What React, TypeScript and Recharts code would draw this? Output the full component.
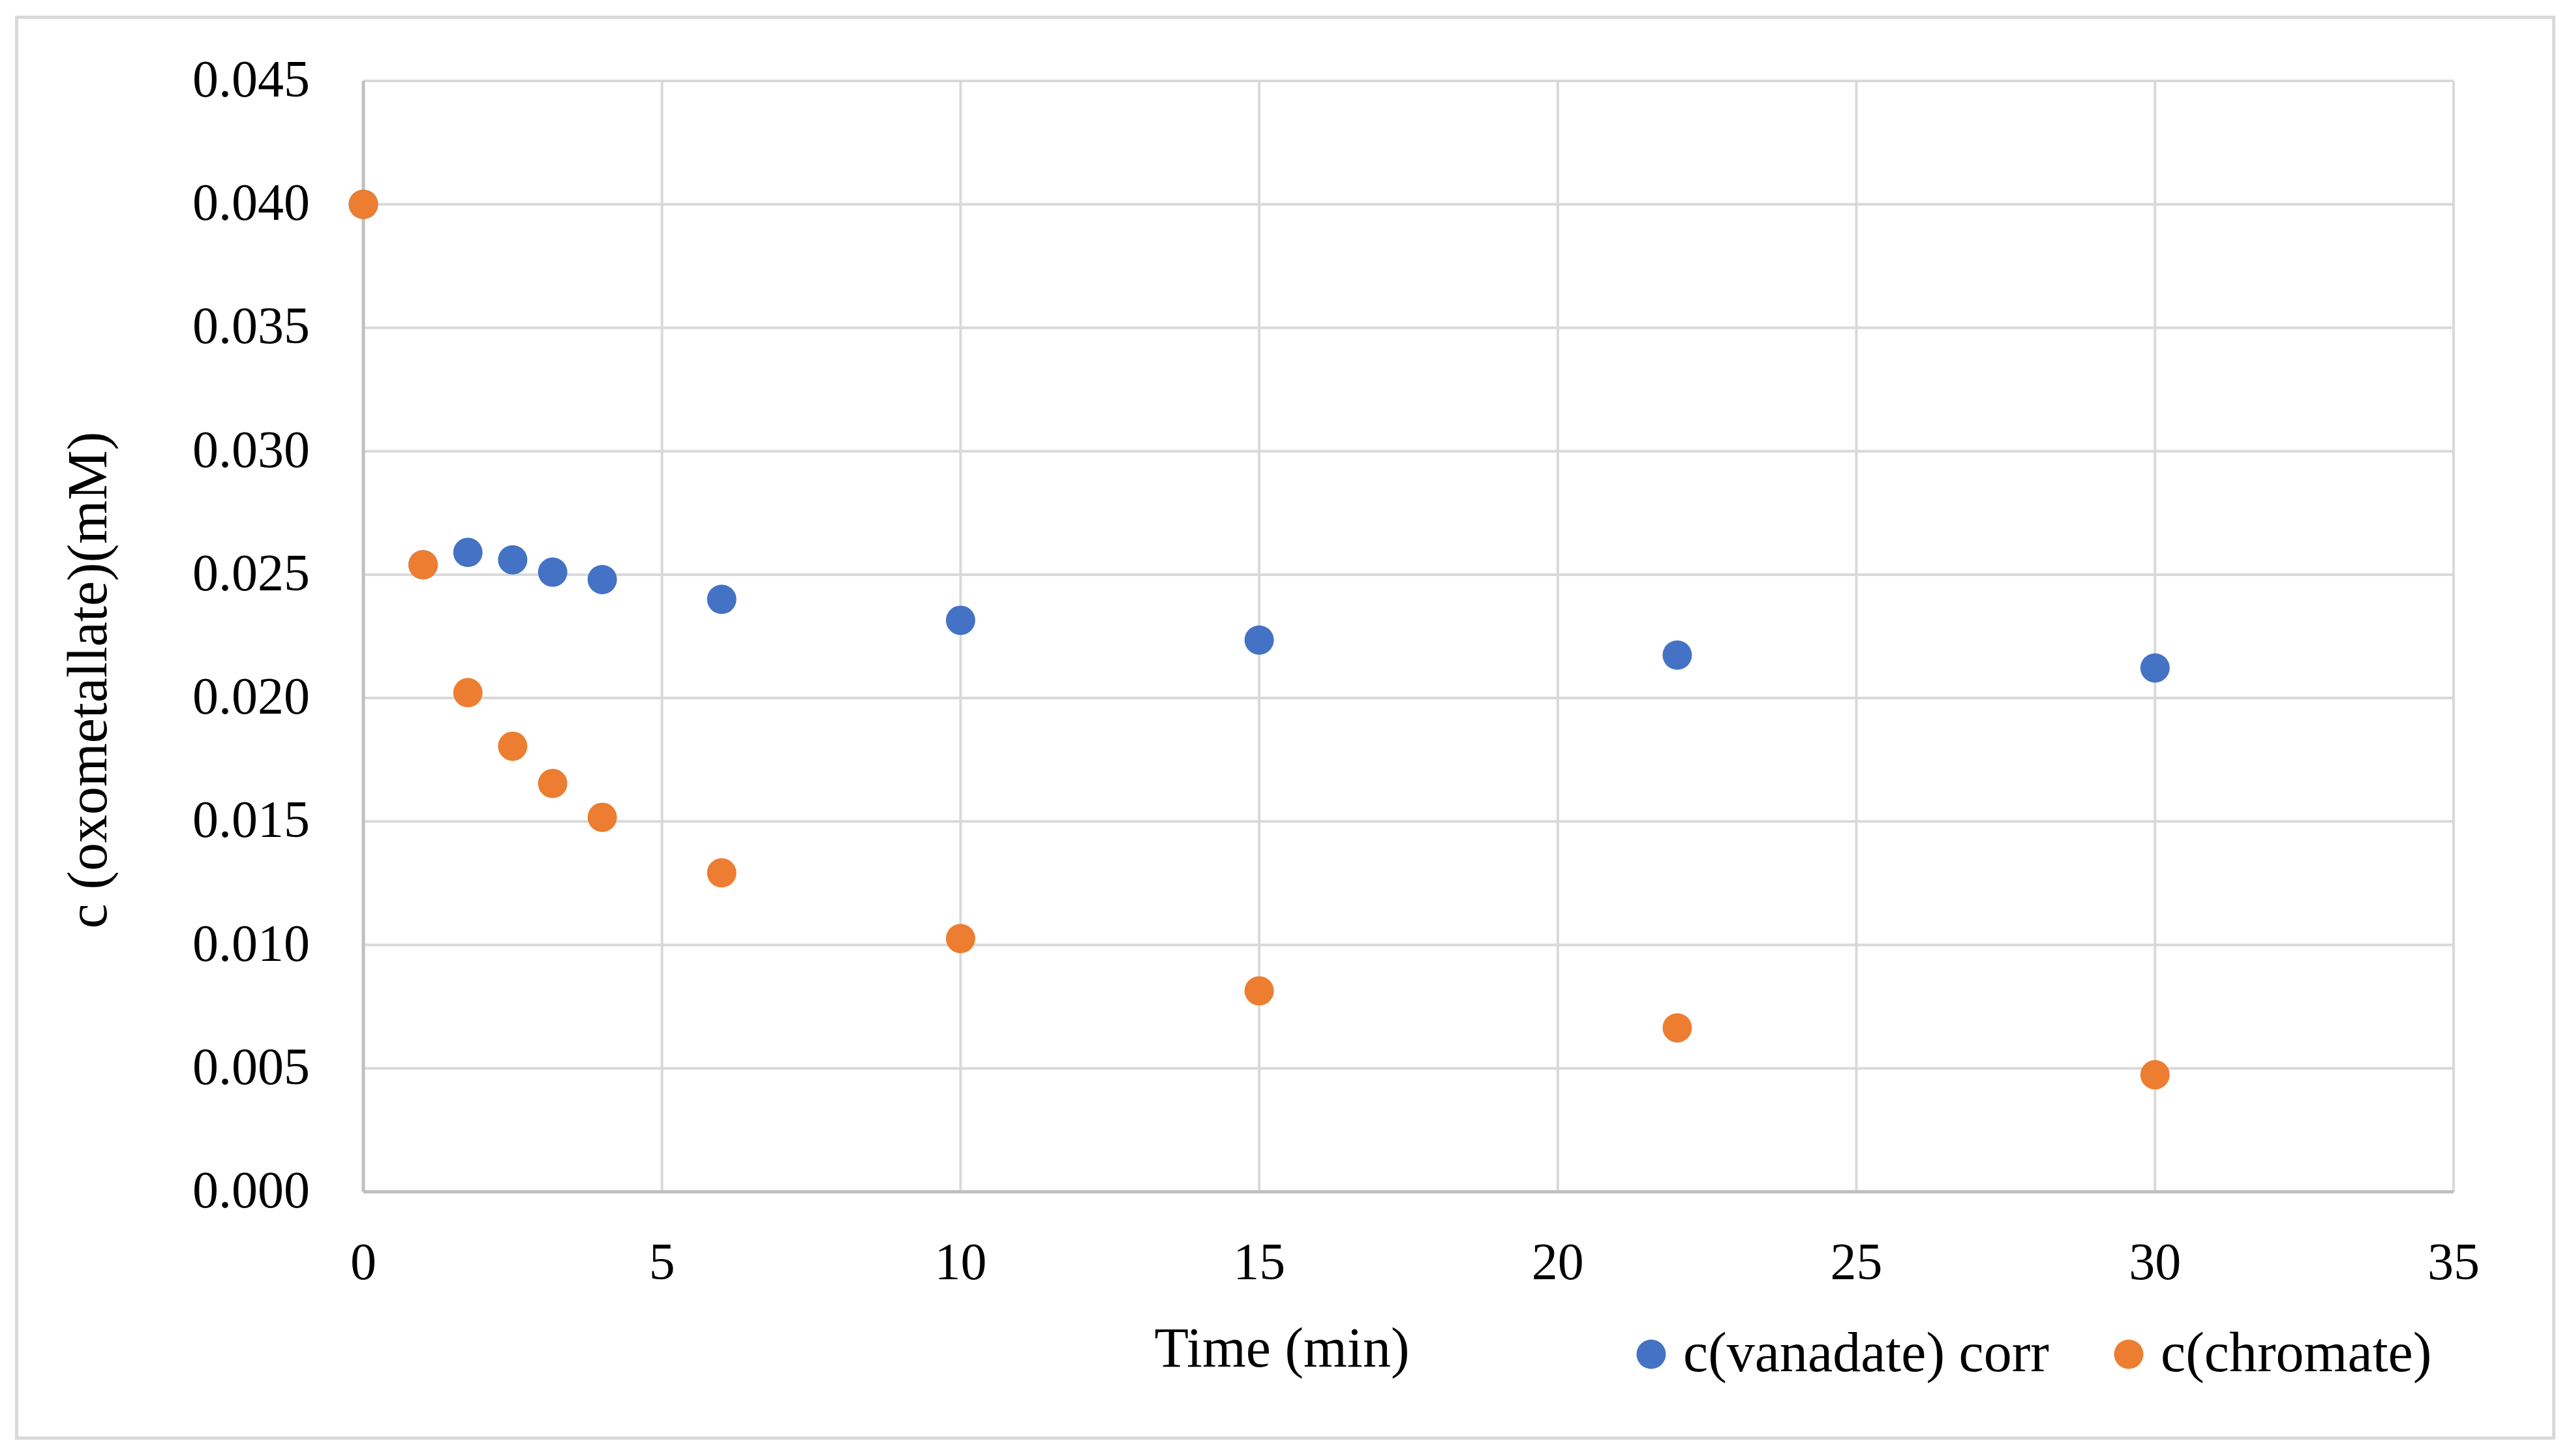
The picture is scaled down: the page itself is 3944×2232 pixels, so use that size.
import React from 'react';
import { ScatterChart, Scatter, XAxis, YAxis, CartesianGrid, Legend } from 'recharts';

const timeMin = [0, 1, 1.75, 2.5, 3.17, 4, 6, 10, 15, 22, 30];
const vanadateCorr = [0.04, 0.0254, 0.0259, 0.0256, 0.0251, 0.0248, 0.024, 0.02315, 0.02235, 0.02174, 0.02122];
const chromate = [0.04, 0.0254, 0.02022, 0.01805, 0.01654, 0.01517, 0.01292, 0.01026, 0.00814, 0.00664, 0.00474];
const xTicks = [0, 5, 10, 15, 20, 25, 30, 35];
const yTicks = [0, 0.005, 0.01, 0.015, 0.02, 0.025, 0.03, 0.035, 0.04, 0.045];

const seriesNames = ['c(vanadate) corr', 'c(chromate)'];
const seriesColors = ['#4472C4', '#ED7D31'];

const vanadateData = timeMin.map((t, i) => ({ t, c: vanadateCorr[i] }));
const chromateData = timeMin.map((t, i) => ({ t, c: chromate[i] }));

const FONT = "'Liberation Serif', 'Times New Roman', serif";
const W = 3928;
const H = 2216;

const XTick = (props: any) => (
  <text x={props.x} y={props.y} dy={134} textAnchor="middle" fontFamily={FONT} fontSize={80} fill="#000">
    {props.payload.value}
  </text>
);

const YTick = (props: any) => (
  <text x={props.x} y={props.y} dy={24} textAnchor="end" fontFamily={FONT} fontSize={80} fill="#000">
    {Number(props.payload.value).toFixed(3)}
  </text>
);

const XLabel = (props: any) => {
  const vb = props.viewBox || {};
  return (
    <text x={vb.x + vb.width / 2 - 194} y={vb.y + 268} textAnchor="middle" fontFamily={FONT} fontSize={86} fill="#000">
      Time (min)
    </text>
  );
};

const YLabel = (props: any) => {
  const vb = props.viewBox || {};
  const cx = 126;
  const cy = vb.y + vb.height / 2 + 67;
  return (
    <text x={cx} y={cy} transform={`rotate(-90 ${cx} ${cy})`} textAnchor="middle" dominantBaseline="central" fontFamily={FONT} fontSize={86} fill="#000">
      c (oxometallate)(mM)
    </text>
  );
};

const legendOffsets = [0, 732];

const LegendContent = (props: any) => {
  const payload = [...(props.payload || [])].sort(
    (a: any, b: any) => seriesNames.indexOf(a.value) - seriesNames.indexOf(b.value)
  );
  return (
    <svg width={1400} height={130} style={{ display: 'block', overflow: 'visible' }}>
      {payload.map((entry: any, i: number) => (
        <g key={i} transform={`translate(${legendOffsets[i] || 0},0)`}>
          <circle cx={43} cy={58} r={22.5} fill={entry.color} />
          <text x={92} y={84} fontFamily={FONT} fontSize={86} fill="#000">
            {entry.value}
          </text>
        </g>
      ))}
    </svg>
  );
};

const dotShape = (color: string) => (p: any) => <circle cx={p.cx} cy={p.cy} r={22.5} fill={color} />;

export default function App() {
  return (
    <div style={{ position: 'relative', width: W, height: H, background: '#fff' }}>
      <ScatterChart width={W} height={H} margin={{ top: 116, right: 175, left: 0, bottom: 267 }}>
        <CartesianGrid stroke="#d9d9d9" strokeWidth={4} />
        <XAxis
          type="number"
          dataKey="t"
          domain={[0, 35]}
          ticks={xTicks}
          interval={0}
          height={130}
          tickLine={false}
          tickSize={0}
          tickMargin={0}
          axisLine={{ stroke: '#bfbfbf', strokeWidth: 5 }}
          tick={<XTick />}
          label={<XLabel />}
        />
        <YAxis
          type="number"
          dataKey="c"
          domain={[0, 0.045]}
          ticks={yTicks}
          interval={0}
          width={549}
          tickLine={false}
          tickSize={0}
          tickMargin={82}
          axisLine={{ stroke: '#bfbfbf', strokeWidth: 5 }}
          tick={<YTick />}
          label={<YLabel />}
        />
        <Legend
          layout="horizontal"
          verticalAlign="middle"
          align="center"
          content={<LegendContent />}
          wrapperStyle={{ left: 2480, top: 2010, width: 1400, height: 130, right: 'auto', bottom: 'auto' }}
        />
        <Scatter
          name={seriesNames[0]}
          data={vanadateData}
          fill={seriesColors[0]}
          shape={dotShape(seriesColors[0])}
          isAnimationActive={false}
        />
        <Scatter
          name={seriesNames[1]}
          data={chromateData}
          fill={seriesColors[1]}
          shape={dotShape(seriesColors[1])}
          isAnimationActive={false}
        />
      </ScatterChart>
      <div
        style={{
          position: 'absolute',
          left: 15,
          top: 16,
          width: 3894,
          height: 2183,
          border: '5px solid #d9d9d9',
          boxSizing: 'border-box',
          pointerEvents: 'none',
        }}
      />
    </div>
  );
}
